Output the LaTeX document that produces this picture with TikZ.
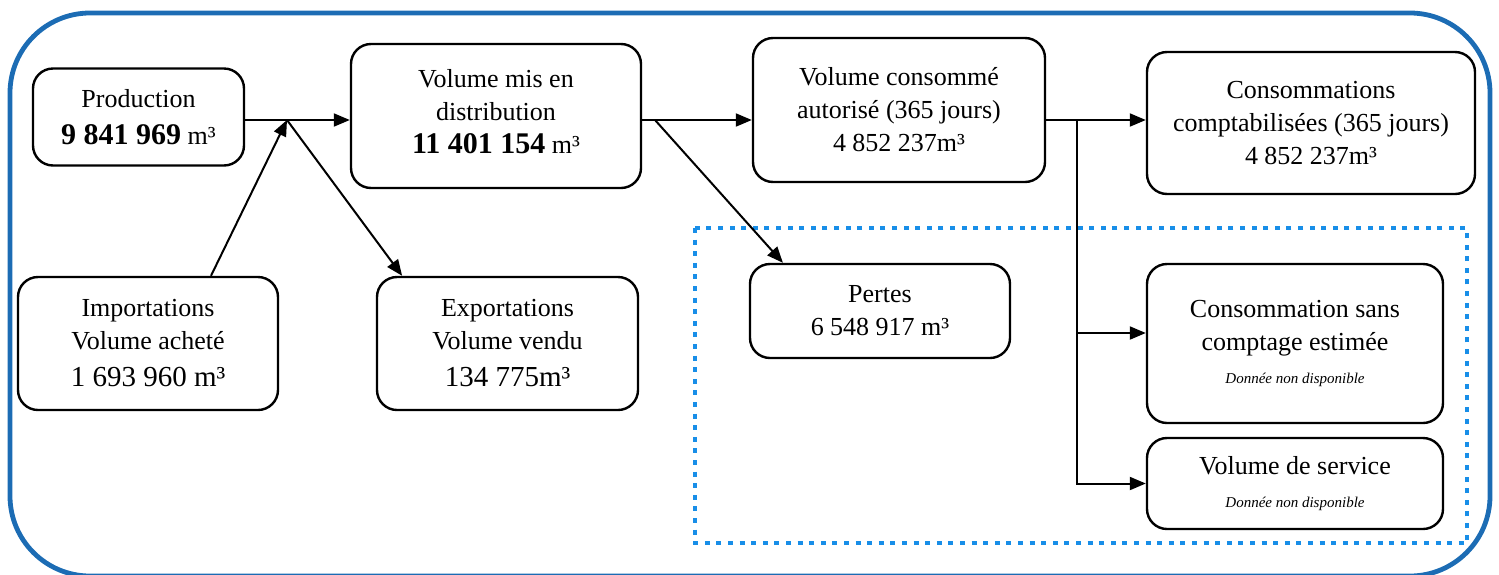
\documentclass[tikz,border=0pt]{standalone}
\usepackage{fontspec}
\setmainfont{Liberation Serif}
\usetikzlibrary{calc,arrows.meta}
\definecolor{cadre}{RGB}{28,108,180}
\definecolor{pointille}{RGB}{24,142,232}
\newcommand{\nondispo}{{\fontsize{7.5}{9}\selectfont\itshape Donnée non disponible}}

\begin{document}
\begin{tikzpicture}[x=0.5pt, y=-0.5pt, every node/.style={rectangle, draw=black, rounded corners=10pt, line width=1.2pt, align=center, font=\fontsize{13}{16.5}\selectfont}, every path/.style={line width=1pt}, fleche/.style={-{Triangle[length=8pt, width=6.5pt]}}]

    \useasboundingbox (0,0) rectangle (1499,574);

    % Frames
    \draw[cadre, line width=2.4pt, rounded corners=40pt] (10,13) rectangle (1490,576);
    \draw[pointille, line width=2.3pt, dash pattern=on 2.5pt off 3.3pt] (695,228) rectangle (1467,543);

    % Nodes
    \node[minimum width=105.5pt, minimum height=48.5pt] (prod) at (138.5,117) {Production\\[2pt]{\fontsize{15}{16.5}\selectfont\bfseries 9 841 969} m³};
    \node[minimum width=145pt, minimum height=72pt] (vmd) at (496,116) {Volume mis en\\distribution\\{\fontsize{15}{16.5}\selectfont\bfseries 11 401 154} m³\\[-11.5pt]};
    \node[minimum width=130pt, minimum height=66.5pt] (imp) at (148,343.5) {Importations\\Volume acheté\\[2pt]{\fontsize{14.5}{18}\selectfont 1 693 960 m³}};
    \node[minimum width=130.5pt, minimum height=66.5pt] (exp) at (507.5,343.5) {Exportations\\Volume vendu\\[2pt]{\fontsize{14.5}{18}\selectfont 134 775m³}};
    \node[minimum width=146pt, minimum height=72pt] (vca) at (899,110) {Volume consommé\\autorisé (365 jours)\\4 852 237m³};
    \node[minimum width=130pt, minimum height=47pt] (pertes) at (880,311) {Pertes\\6 548 917 m³};
    \node[minimum width=164pt, minimum height=71pt] (cc) at (1311,123) {Consommations\\comptabilisées (365 jours)\\4 852 237m³};
    \node[minimum width=148pt, minimum height=79.5pt] (csc) at (1295,343.5) {Consommation sans\\comptage estimée\\\nondispo};
    \node[minimum width=148pt, minimum height=45.5pt] (vs) at (1295,483.5) {Volume de service\\\nondispo};

    % Junctions
    \coordinate (j1) at (287,120);
    \coordinate (j2) at (655,120);
    \coordinate (j3) at (1077,120);
    \coordinate (j4) at (1077,333);

    % Edges
    \draw[fleche] (prod.east |- j1) -- (vmd.west |- j1);
    \draw[fleche] ($(imp.north west)!0.74!(imp.north east)$) -- (j1);
    \draw[fleche] (j1) -- ($(exp.north west)!0.1!(exp.north east)$);
    \draw[fleche] (vmd.east |- j2) -- (vca.west |- j2);
    \draw[fleche] (j2) -- ($(pertes.north west)!0.13!(pertes.north east)$);
    \draw[fleche] (vca.east |- j3) -- (cc.west |- j3);
    \draw[fleche] (j3) |- (vs.west);
    \draw[fleche] (j4) -- (csc.west |- j4);

\end{tikzpicture}
\end{document}
